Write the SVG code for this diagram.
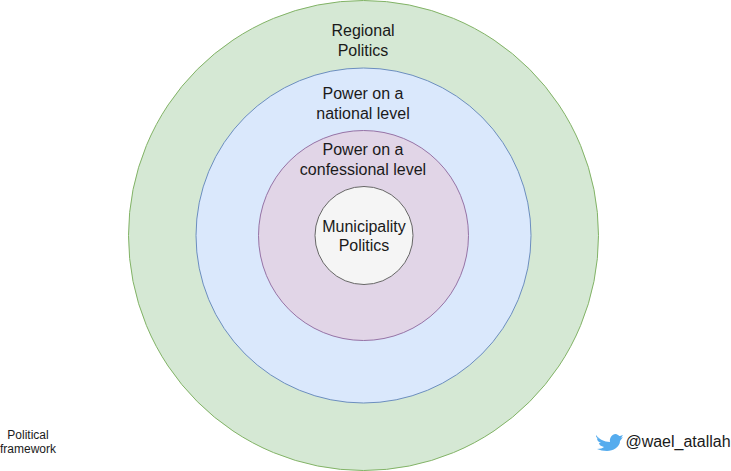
<svg xmlns="http://www.w3.org/2000/svg" width="731" height="471" viewBox="0 0 731 471">
<style>
text{font-family:"Liberation Sans",Arial,sans-serif;font-size:16px;fill:#1a1a1a;text-anchor:middle}
.s{font-size:12px}
</style>
<rect width="731" height="471" fill="#fff"/>
<g id="regional"><circle cx="363.500" cy="235.500" r="235" fill="#d5e8d4" stroke="#82b366"/><text x="363" y="36">Regional</text><text x="363" y="56">Politics</text></g>
<g id="national"><circle cx="363.500" cy="235.500" r="167.500" fill="#dae8fc" stroke="#6c8ebf"/><text x="363" y="99">Power on a</text><text x="363" y="119">national level</text></g>
<g id="confessional"><circle cx="363.500" cy="235.500" r="105" fill="#e1d5e7" stroke="#9673a6"/><text x="363" y="155">Power on a</text><text x="363" y="175">confessional level</text></g>
<g id="municipality"><circle cx="364" cy="235.500" r="49" fill="#f5f5f5" stroke="#666"/><text x="364" y="232">Municipality</text><text x="364" y="251">Politics</text></g>
<g id="caption"><text class="s" x="28" y="439">Political</text><text class="s" x="28" y="453">framework</text></g>
<g id="handle"><path d="M596 435C599 439 604 442 610 442C609 437 614 432 618 435C619 436 620 436 620 436L623 435L621 438L623 437L620 441C620 447 613 451 607 451C603 451 600 450 597 449C600 449 603 448 604 447C601 446 599 445 599 443L601 443C598 442 597 440 597 438L599 439C596 437 596 437 596 435Z" fill="#55acee"/><text x="678" y="447">@wael_atallah</text></g>
</svg>
